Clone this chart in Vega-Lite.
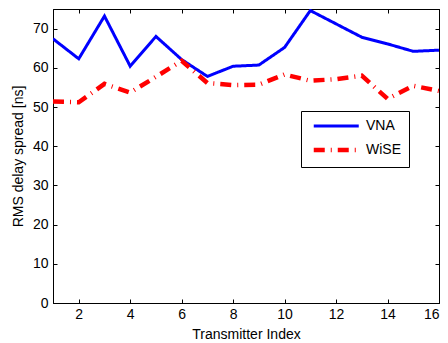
{
  "$schema": "https://vega.github.io/schema/vega-lite/v6.json",
  "width": 386,
  "height": 294,
  "autosize": "none",
  "padding": {"left": 53, "top": 9, "right": 9, "bottom": 40},
  "config": {
    "view": {"stroke": "black", "strokeWidth": 1},
    "font": "Liberation Sans",
    "axis": {
      "grid": false,
      "domainColor": "black",
      "tickColor": "black",
      "tickSize": -4,
      "labelColor": "black",
      "labelFontSize": 14,
      "labelFont": "Liberation Sans",
      "titleFont": "Liberation Sans",
      "titleFontSize": 14,
      "titleFontWeight": "normal",
      "titleColor": "black"
    }
  },
  "data": {
    "values": [
      {"tx": 1, "v": 67.4, "s": "VNA"},
      {"tx": 2, "v": 62.3, "s": "VNA"},
      {"tx": 3, "v": 73.2, "s": "VNA"},
      {"tx": 4, "v": 60.4, "s": "VNA"},
      {"tx": 5, "v": 68.0, "s": "VNA"},
      {"tx": 6, "v": 62.1, "s": "VNA"},
      {"tx": 7, "v": 57.8, "s": "VNA"},
      {"tx": 8, "v": 60.4, "s": "VNA"},
      {"tx": 9, "v": 60.7, "s": "VNA"},
      {"tx": 10, "v": 65.2, "s": "VNA"},
      {"tx": 11, "v": 74.6, "s": "VNA"},
      {"tx": 12, "v": 71.2, "s": "VNA"},
      {"tx": 13, "v": 67.8, "s": "VNA"},
      {"tx": 14, "v": 66.1, "s": "VNA"},
      {"tx": 15, "v": 64.2, "s": "VNA"},
      {"tx": 16, "v": 64.5, "s": "VNA"},
      {"tx": 1, "v": 51.4, "s": "WiSE"},
      {"tx": 2, "v": 51.2, "s": "WiSE"},
      {"tx": 3, "v": 55.9, "s": "WiSE"},
      {"tx": 4, "v": 53.7, "s": "WiSE"},
      {"tx": 5, "v": 57.7, "s": "WiSE"},
      {"tx": 6, "v": 61.8, "s": "WiSE"},
      {"tx": 7, "v": 56.1, "s": "WiSE"},
      {"tx": 8, "v": 55.6, "s": "WiSE"},
      {"tx": 9, "v": 55.7, "s": "WiSE"},
      {"tx": 10, "v": 58.3, "s": "WiSE"},
      {"tx": 11, "v": 56.7, "s": "WiSE"},
      {"tx": 12, "v": 57.1, "s": "WiSE"},
      {"tx": 13, "v": 58.0, "s": "WiSE"},
      {"tx": 14, "v": 52.1, "s": "WiSE"},
      {"tx": 15, "v": 55.4, "s": "WiSE"},
      {"tx": 16, "v": 54.1, "s": "WiSE"}
    ]
  },
  "layer": [
    {
      "mark": {"type": "line", "clip": true},
      "encoding": {
        "x": {
          "field": "tx", "type": "quantitative",
          "scale": {"domain": [1, 16], "nice": false, "zero": false},
          "axis": {"values": [2, 4, 6, 8, 10, 12, 14, 16], "title": "Transmitter Index", "labelPadding": 8, "titlePadding": 6}
        },
        "y": {
          "field": "v", "type": "quantitative",
          "scale": {"domain": [0, 75], "nice": false},
          "axis": {"values": [0, 10, 20, 30, 40, 50, 60, 70], "title": "RMS delay spread [ns]", "labelPadding": 9, "titlePadding": 7}
        },
        "color": {
          "field": "s", "type": "nominal",
          "scale": {"domain": ["VNA", "WiSE"], "range": ["#0000ff", "#ff0000"]},
          "legend": {
            "title": null,
            "orient": "none",
            "legendX": 248,
            "legendY": 102,
            "strokeColor": "black",
            "fillColor": "white",
            "padding": 8,
            "symbolType": "M-0.5,0H9.5",
            "symbolSize": 81,
            "labelFontSize": 14,
            "labelFont": "Liberation Sans",
            "labelColor": "black",
            "labelOffset": 43,
            "rowPadding": 8
          }
        },
        "strokeDash": {
          "field": "s", "type": "nominal",
          "scale": {"domain": ["VNA", "WiSE"], "range": [[1, 0], [11, 6, 1, 6]]},
          "legend": null
        },
        "strokeWidth": {
          "field": "s", "type": "nominal",
          "scale": {"domain": ["VNA", "WiSE"], "range": [3, 4.5]},
          "legend": null
        }
      }
    },
    {
      "mark": {"type": "line", "opacity": 0},
      "encoding": {
        "x": {"field": "tx", "type": "quantitative", "axis": {"orient": "top", "labels": false, "title": null, "values": [2, 4, 6, 8, 10, 12, 14, 16]}},
        "y": {"field": "v", "type": "quantitative", "axis": {"orient": "right", "labels": false, "title": null, "values": [0, 10, 20, 30, 40, 50, 60, 70]}},
        "detail": {"field": "s"}
      }
    }
  ],
  "resolve": {"axis": {"x": "independent", "y": "independent"}}
}
